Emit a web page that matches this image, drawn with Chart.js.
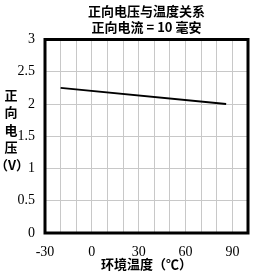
<!DOCTYPE html>
<html>
<head>
<meta charset="utf-8">
<script src="https://cdn.jsdelivr.net/npm/chart.js@4"></script>
<style>
  html, body { margin: 0; padding: 0; background: #fff; }
  #wrap { width: 254px; height: 274px; }
</style>
</head>
<body>
<div id="wrap"><canvas id="c" width="254" height="274"></canvas></div>
<script>
  const temps = [-20, 86];
  const volts = [2.25, 2.0];
  const titleLines = ['正向电压与温度关系', '正向电流 = 10 毫安'];
  const yTitleLines = ['正', '向', '电', '压', '（V）'];
  const xTitle = '环境温度（℃）';
  const xLabelTicks = [-30, 0, 30, 60, 90];

  const cjk = '"Noto Sans CJK SC", "Noto Sans", sans-serif';
  const serif = '"Liberation Serif", "DejaVu Serif", serif';

  const frame = {
    id: 'frame',
    afterDraw(chart) {
      const { ctx, chartArea: a } = chart;
      ctx.save();
      ctx.strokeStyle = '#000';
      ctx.lineWidth = 3;
      ctx.strokeRect(a.left, a.top, a.right - a.left, a.bottom - a.top);
      // vertical y title
      ctx.fillStyle = '#000';
      ctx.font = 'bold 13px ' + cjk;
      ctx.textAlign = 'center';
      ctx.textBaseline = 'middle';
      yTitleLines.forEach((t, i) => ctx.fillText(t, i === 4 ? 12 : 11, 95 + i * 17.5));
      ctx.restore();
    }
  };

  new Chart(document.getElementById('c'), {
    type: 'line',
    data: {
      datasets: [{
        data: temps.map((t, i) => ({ x: t, y: volts[i] })),
        borderColor: '#000',
        borderWidth: 2,
        pointRadius: 0,
        tension: 0,
      }]
    },
    options: {
      responsive: false,
      animation: false,
      layout: { padding: { left: 0, right: 6, top: 0, bottom: 0 } },
      plugins: {
        legend: { display: false },
        tooltip: { enabled: false },
        title: {
          display: true,
          text: titleLines,
          fullSize: false,
          color: '#000',
          font: { family: cjk, size: 13, weight: 'bold', lineHeight: 1.25 },
          padding: { top: 3, bottom: 4 },
        },
      },
      scales: {
        x: {
          type: 'linear',
          min: -30, max: 100,
          afterFit: s => { s.height = 41; s.paddingRight = 0; s.paddingLeft = 0; },
          ticks: {
            stepSize: 10,
            color: '#000',
            font: { family: serif, size: 14 },
            maxRotation: 0,
            autoSkip: false,
            padding: 11,
            callback: v => xLabelTicks.includes(v) ? String(v) : '',
          },
          grid: { color: '#c8c8c8', lineWidth: 1, drawTicks: false },
          border: { display: false },
          title: {
            display: true,
            text: xTitle,
            color: '#000',
            font: { family: cjk, size: 13, weight: 'bold' },
            padding: { top: 0, bottom: 2 },
          },
        },
        y: {
          min: 0, max: 3,
          afterFit: s => { s.width = 45; },
          ticks: {
            stepSize: 0.5,
            color: '#000',
            font: { family: serif, size: 14 },
            padding: 10,
            callback: v => String(v),
          },
          grid: { color: '#c8c8c8', lineWidth: 1, drawTicks: false },
          border: { display: false },
        },
      },
    },
    plugins: [frame],
  });
</script>
</body>
</html>
